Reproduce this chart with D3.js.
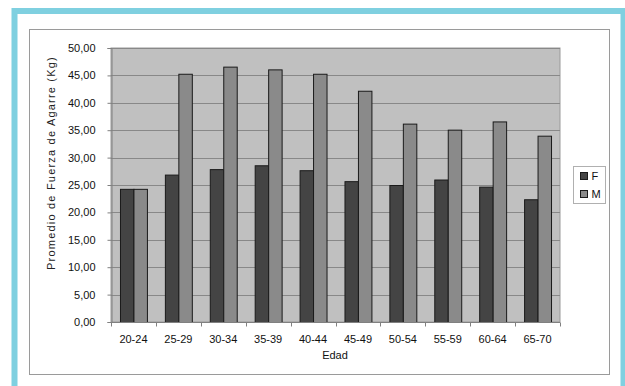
<!DOCTYPE html>
<html>
<head>
<meta charset="utf-8">
<script src="https://cdn.jsdelivr.net/npm/d3@7/dist/d3.min.js"></script>
<style>
  html, body { margin: 0; padding: 0; background: #ffffff; }
  svg { display: block; font-family: Arial, "Liberation Sans", sans-serif; }
</style>
</head>
<body>
<svg id="chart" width="625" height="386"></svg>
<script>
// Grip strength averages by age group
const categories = ["20-24", "25-29", "30-34", "35-39", "40-44", "45-49", "50-54", "55-59", "60-64", "65-70"];
const valuesF = [24.3, 26.9, 27.9, 28.6, 27.7, 25.7, 25.0, 26.0, 24.7, 22.4];
const valuesM = [24.3, 45.3, 46.6, 46.1, 45.3, 42.2, 36.2, 35.1, 36.6, 34.0];
const seriesNames = ["F", "M"];
const yTicks = [0, 5, 10, 15, 20, 25, 30, 35, 40, 45, 50];

const colors = { F: "#444444", M: "#8a8a8a" };
const svg = d3.select("#chart");

// Outer cyan frame (open at the bottom)
svg.append("path")
  .attr("d", "M14.5,386 V11 H623.5 V386")
  .attr("fill", "none")
  .attr("stroke", "#7fd0e0")
  .attr("stroke-width", 6);

// Chart area border
svg.append("rect")
  .attr("x", 29.5).attr("y", 29.5)
  .attr("width", 580).attr("height", 345)
  .attr("fill", "#ffffff")
  .attr("stroke", "#9a9a9a")
  .attr("stroke-width", 1);

const plot = { left: 111, top: 48, right: 560, bottom: 322 };

const x = d3.scaleBand()
  .domain(categories)
  .range([plot.left, plot.right])
  .paddingInner(0.4)
  .paddingOuter(0.2);

const xs = d3.scaleBand().domain(seriesNames).range([0, x.bandwidth()]);

const y = d3.scaleLinear().domain([0, 50]).range([plot.bottom, plot.top]);

// Plot background
svg.append("rect")
  .attr("x", plot.left).attr("y", plot.top)
  .attr("width", plot.right - plot.left)
  .attr("height", plot.bottom - plot.top)
  .attr("fill", "#c0c0c0")
  .attr("stroke", "#9a9a9a");

// Horizontal gridlines
svg.append("g")
  .selectAll("line")
  .data(yTicks.filter(d => d > 0))
  .join("line")
  .attr("x1", plot.left).attr("x2", plot.right)
  .attr("y1", d => Math.round(y(d)) + 0.5)
  .attr("y2", d => Math.round(y(d)) + 0.5)
  .attr("stroke", "#888888")
  .attr("stroke-width", 1);

// Bars
const data = categories.map((c, i) => ({ cat: c, F: valuesF[i], M: valuesM[i] }));
const groups = svg.append("g")
  .selectAll("g")
  .data(data)
  .join("g")
  .attr("transform", d => `translate(${x(d.cat)},0)`);

groups.selectAll("rect")
  .data(d => seriesNames.map(s => ({ s, v: d[s] })))
  .join("rect")
  .attr("x", d => xs(d.s) + 0.5)
  .attr("y", d => y(d.v) + 0.5)
  .attr("width", xs.bandwidth())
  .attr("height", d => y(0) - y(d.v))
  .attr("fill", d => colors[d.s])
  .attr("stroke", "#1a1a1a")
  .attr("stroke-width", 1);

// Y axis
const yAxis = svg.append("g")
  .attr("transform", `translate(${plot.left + 0.5},0)`)
  .call(d3.axisLeft(y).tickValues(yTicks).tickSize(4).tickPadding(12)
    .tickFormat(d => d3.format(".2f")(d).replace(".", ",")));
yAxis.select(".domain").attr("stroke", "#808080");
yAxis.selectAll(".tick line").attr("stroke", "#808080");
yAxis.selectAll("text").attr("font-size", 11).attr("fill", "#111").attr("font-family", "Arial, 'Liberation Sans', sans-serif");

// X axis with ticks at category boundaries
const xAxisG = svg.append("g").attr("transform", `translate(0,${plot.bottom + 0.5})`);
xAxisG.append("line")
  .attr("x1", plot.left).attr("x2", plot.right)
  .attr("stroke", "#808080");
const boundaries = d3.range(categories.length + 1).map(i => plot.left + (plot.right - plot.left) * i / categories.length);
xAxisG.selectAll("line.tk")
  .data(boundaries)
  .join("line")
  .attr("class", "tk")
  .attr("x1", d => Math.round(d) + 0.5).attr("x2", d => Math.round(d) + 0.5)
  .attr("y1", 0).attr("y2", 4)
  .attr("stroke", "#808080");
xAxisG.selectAll("text")
  .data(categories)
  .join("text")
  .attr("x", d => x(d) + x.bandwidth() / 2)
  .attr("y", 20)
  .attr("text-anchor", "middle")
  .attr("font-size", 11)
  .attr("fill", "#111")
  .text(d => d);

// Axis titles
svg.append("text")
  .attr("x", 335).attr("y", 359)
  .attr("text-anchor", "middle")
  .attr("font-size", 11)
  .attr("fill", "#111")
  .text("Edad");

svg.append("text")
  .attr("transform", "translate(55,163) rotate(-90)")
  .attr("text-anchor", "middle")
  .attr("font-size", 11)
  .attr("letter-spacing", "1.2px")
  .attr("fill", "#222")
  .text("Promedio de Fuerza de Agarre (Kg)");

// Legend
const legend = svg.append("g").attr("transform", "translate(573.5,166.5)");
legend.append("rect")
  .attr("width", 32).attr("height", 37)
  .attr("fill", "#ffffff")
  .attr("stroke", "#b0b0b0");
seriesNames.forEach((s, i) => {
  legend.append("rect")
    .attr("x", 7).attr("y", 6 + i * 18)
    .attr("width", 7).attr("height", 7)
    .attr("fill", colors[s])
    .attr("stroke", "#1a1a1a");
  legend.append("text")
    .attr("x", 18).attr("y", 13.5 + i * 18)
    .attr("font-size", 11)
    .attr("fill", "#111")
    .text(s);
});
</script>
</body>
</html>
